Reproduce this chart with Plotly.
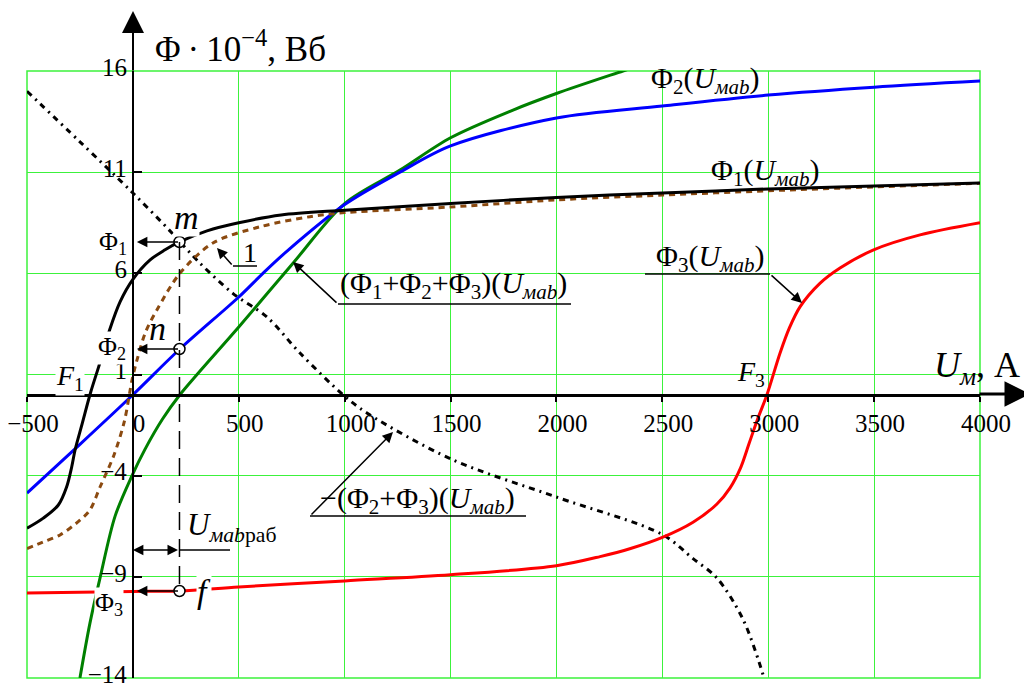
import plotly.graph_objects as go

# magnetic voltage U_m (A) and fluxes (x1e-4 Wb)
phi1_u = [-500, -423, -352, -313, -289, -273, -240, -200, -155, -110, -60, 0, 80, 150, 220, 350, 500, 700, 1000, 1500, 2000, 2500, 3000, 3500, 4000]
phi1_v = [-6.6, -6.1, -5.45, -4.56, -3.57, -2.73, -1.45, 0.1, 1.6, 3.2, 4.6, 5.7, 6.65, 7.15, 7.55, 8.1, 8.5, 8.88, 9.12, 9.45, 9.75, 9.97, 10.17, 10.32, 10.47]

curve1_u = [-500, -424, -344, -250, -203, -155, -90, -40, -4, 19, 60, 114, 222, 378, 600, 836, 1000, 1500, 2000, 2500, 3000, 3500, 4000]
curve1_v = [-7.6, -7.28, -6.93, -6.2, -5.7, -4.56, -3.0, -1.3, 0.73, 1.7, 3.1, 4.2, 6.0, 7.5, 8.3, 8.8, 9.0, 9.28, 9.63, 9.87, 10.08, 10.27, 10.45]

phi2_u = [-500, -250, 0, 222, 500, 614, 728, 1000, 1261, 1500, 2000, 2500, 3000, 3500, 4000]
phi2_v = [-4.86, -2.45, 0.0, 2.26, 4.83, 6.0, 7.1, 9.4, 11.0, 12.3, 13.68, 14.27, 14.81, 15.2, 15.5]

sum_u = [-250, -203, -155, -84, -4, 57, 140, 222, 307, 500, 756, 1000, 1261, 1500, 1795, 2003, 2314, 2400]
sum_v = [-14.0, -11.3, -9.05, -6.0, -4.0, -2.7, -1.2, 0.0, 1.05, 3.35, 6.5, 9.45, 11.1, 12.7, 14.07, 14.9, 16.0, 16.3]

phi3_u = [-500, 0, 222, 500, 1000, 1500, 2000, 2206, 2350, 2500, 2645, 2758, 2820, 2870, 2910, 2950, 2994, 3056, 3100, 3150, 3244, 3339, 3495, 3717, 4000]
phi3_v = [-9.8, -9.72, -9.7, -9.5, -9.2, -8.9, -8.45, -8.0, -7.6, -7.05, -6.3, -5.4, -4.6, -3.6, -2.4, -1.2, 0.0, 2.06, 3.3, 4.34, 5.5, 6.26, 7.15, 7.9, 8.5]

neg23_u = [-500, -250, 0, 175, 317, 473, 633, 789, 992, 1105, 1507, 1998, 2499, 2645, 2758, 2881, 2976, 3000]
neg23_v = [15.0, 12.5, 9.97, 8.1, 6.5, 5.0, 3.84, 2.06, 0.0, -0.9, -3.2, -5.05, -6.9, -8.1, -9.06, -11.1, -13.85, -14.8]

u_work = 220
work_v = [7.55, 2.26, -9.7]   # m, n, f

x_ticks = [-500, 0, 500, 1000, 1500, 2000, 2500, 3000, 3500, 4000]
y_ticks = [-14, -9, -4, 1, 6, 11, 16]

SERIF = "Liberation Serif, Times New Roman, serif"
GRID = "#3cf23c"

# the page body adds an 8px margin, so the figure is 1024x678 and starts at (8, 8)
# pixel (window) -> paper helpers, plot area 27..980 x 71..678
def px(x):
    return (x - 27) / 953

def py(y):
    return (678 - y) / 607

fig = go.Figure()

def curve(u, v, color, dash="solid", width=3):
    fig.add_trace(go.Scatter(x=u, y=v, mode="lines", line=dict(color=color, width=width, dash=dash, shape="spline", smoothing=0.9),
                             showlegend=False, hoverinfo="skip"))

curve(neg23_u, neg23_v, "black", dash="6px,5px,2px,5px")
curve(phi3_u, phi3_v, "#ff0000")
curve(sum_u, sum_v, "#008000")
curve(phi2_u, phi2_v, "#0000ff")
curve(curve1_u, curve1_v, "#8b4a10", dash="6px,5px")
curve(phi1_u, phi1_v, "black")

shapes = []
anns = []

def seg(x0, y0, x1, y1, w=1.5, dash="solid"):
    shapes.append(dict(type="line", xref="paper", yref="paper", x0=px(x0), y0=py(y0), x1=px(x1), y1=py(y1),
                       line=dict(color="black", width=w, dash=dash)))

def arrow(tx, ty, sx, sy, w=1.5, head=2, size=1.4):
    anns.append(dict(xref="paper", yref="paper", x=px(tx), y=py(ty), ax=sx - tx, ay=sy - ty, text="",
                     showarrow=True, arrowhead=head, arrowsize=size, arrowwidth=w, arrowcolor="black"))

def label(text, cx, cy, size=30, bg=None, xanchor="center"):
    d = dict(xref="paper", yref="paper", x=px(cx), y=py(cy), text=text, showarrow=False, xanchor=xanchor,
             yanchor="middle", font=dict(family=SERIF, size=size, color="black"), borderpad=0)
    if bg:
        d["bgcolor"] = bg
    anns.append(d)

# plot frame
shapes.append(dict(type="rect", xref="paper", yref="paper", x0=0, y0=0, x1=1, y1=1, line=dict(color=GRID, width=1.5), layer="below"))

# working point construction
shapes.append(dict(type="line", xref="x", yref="y", x0=u_work, x1=u_work, y0=work_v[0], y1=work_v[2],
                   line=dict(color="black", width=1.5, dash="18px,9px")))
for v in work_v:
    anns.append(dict(xref="x", yref="y", x=0, y=v, axref="x", ayref="y", ax=u_work, ay=v, text="",
                     showarrow=True, arrowhead=2, arrowsize=1.4, arrowwidth=1.5, arrowcolor="black", standoff=4))
anns.append(dict(xref="x", yref="y", x=0, y=-7.67, axref="x", ayref="y", ax=u_work, ay=-7.67, text="",
                 showarrow=True, arrowhead=2, arrowside="end+start", arrowsize=1.4, arrowwidth=1.5, arrowcolor="black"))
seg(180, 550, 230, 550)

# axis arrows
arrow(1030, 394, 978, 394, w=3, size=1.7)
arrow(133, 11, 133, 72, w=2, size=2.2)

# leader lines
seg(233, 266, 257, 266)
arrow(217, 248, 233, 266)
seg(338, 304, 571, 304)
arrow(293, 262, 338, 304)
seg(645, 274, 770, 274)
arrow(802, 303, 770, 274)
seg(310, 516, 526, 516)
arrow(393, 432, 310, 516)

UMAB = "<i>U</i><sub><i>мab</i></sub>"
label("Φ<sub>2</sub>(" + UMAB + ")", 705, 80)
label("Φ<sub>1</sub>(" + UMAB + ")", 765, 172)
label("Φ<sub>3</sub>(" + UMAB + ")", 710, 258)
label("(Φ<sub>1</sub>+Φ<sub>2</sub>+Φ<sub>3</sub>)(" + UMAB + ")", 453, 285)
label("−(Φ<sub>2</sub>+Φ<sub>3</sub>)(" + UMAB + ")", 417, 500)
label("<i>U</i><sub><i>мab</i>раб</sub>", 186, 527, size=31, xanchor="left")
label("1", 250, 252, size=28)
label("<i>m</i>", 186, 217, size=34, bg="white")
label("<i>n</i>", 157, 328, size=34)
label("<i>f</i>", 204, 591, size=34, bg="white")
label("Φ<sub>1</sub>", 113, 243, size=26)
label("Φ<sub>2</sub>", 112, 348, size=26, bg="white")
label("Φ<sub>3</sub>", 109, 604, size=26, bg="white")
label("<i>F</i><sub>1</sub>", 70, 377, size=28, bg="white")
label("<i>F</i><sub>3</sub>", 751, 373, size=28)
label("Φ\u2009·\u200910<sup>−4</sup>, Вб", 154, 46, size=35, xanchor="left")
label("<i>U</i><sub><i>м</i></sub>, А", 933, 367, size=36, xanchor="left")

fig.add_trace(go.Scatter(x=[u_work] * 3, y=work_v, mode="markers",
                         marker=dict(size=11, color="white", line=dict(color="black", width=1.5)),
                         showlegend=False, hoverinfo="skip"))

fig.update_layout(
    width=1024, height=678,
    margin=dict(l=19, r=52, t=63, b=8),
    paper_bgcolor="white", plot_bgcolor="white",
    font=dict(family=SERIF, size=25, color="black"),
    xaxis=dict(range=[-500, 4000], tickvals=x_ticks, showgrid=True, gridcolor=GRID, gridwidth=1.2,
               zeroline=False, showline=True, linecolor="black", linewidth=3, automargin=False,
               anchor="free", position=14 / 30, ticks="outside", ticklen=5, tickwidth=1.5, tickcolor="black",
               ticklabeloverflow="allow", ticklabelshift=6,
               tickfont=dict(family=SERIF, size=25)),
    yaxis=dict(range=[-14, 16], tickvals=y_ticks, showgrid=True, gridcolor=GRID, gridwidth=1.2,
               zeroline=False, showline=True, linecolor="black", linewidth=2, automargin=False,
               anchor="free", position=500 / 4500, ticks="inside", ticklen=8, tickwidth=1.5, tickcolor="black",
               ticklabeloverflow="allow", ticklabelshift=-4,
               tickfont=dict(family=SERIF, size=25)),
    shapes=shapes, annotations=anns,
)

fig.write_html("out.html")
